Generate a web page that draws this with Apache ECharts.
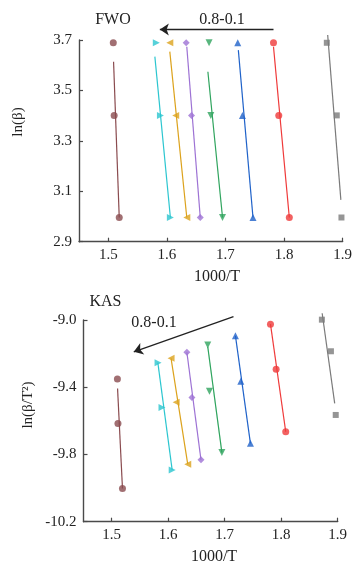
<!DOCTYPE html>
<html>
<head>
<meta charset="utf-8">
<script src="https://cdn.jsdelivr.net/npm/echarts@6/dist/echarts.min.js"></script>
<style>
  html, body { margin: 0; padding: 0; background: #fff; }
  #chart { width: 355px; height: 570px; }
</style>
</head>
<body>
<div id="chart"></div>
<script>
// Isoconversional plots (FWO and KAS), conversion 0.8 (left) ... 0.1 (right),
// three heating rates per conversion (20, 30, 40 K/min).

// ---- FWO: ln(beta) vs 1000/T ----
const lnBeta = [3.689, 3.401, 2.996];          // beta = 40, 30, 20
const fwoX08 = [1.5085, 1.510, 1.5187];
const fwoX07 = [1.582, 1.589, 1.606];
const fwoX06 = [1.605, 1.615, 1.634];
const fwoX05 = [1.633, 1.642, 1.657];
const fwoX04 = [1.672, 1.675, 1.695];
const fwoX03 = [1.721, 1.729, 1.747];
const fwoX02 = [1.782, 1.791, 1.809];
const fwoX01 = [1.873, 1.890, 1.898];

// fitted lines [x, y] start / end
const fwoFit08 = [[1.509, 3.614], [1.5187, 2.996]];
const fwoFit07 = [[1.5795, 3.634], [1.606, 2.996]];
const fwoFit06 = [[1.605, 3.654], [1.634, 2.996]];
const fwoFit05 = [[1.634, 3.673], [1.657, 2.996]];
const fwoFit04 = [[1.670, 3.574], [1.695, 2.996]];
const fwoFit03 = [[1.722, 3.660], [1.747, 2.996]];
const fwoFit02 = [[1.782, 3.673], [1.809, 2.996]];
const fwoFit01 = [[1.8745, 3.720], [1.897, 3.066]];

// ---- KAS: ln(beta/T^2) vs 1000/T ----
const kasX08 = [1.510, 1.511, 1.519];   const kasY08 = [-9.351, -9.616, -10.002];
const kasX07 = [1.582, 1.589, 1.607];   const kasY07 = [-9.254, -9.521, -9.893];
const kasX06 = [1.605, 1.614, 1.6345];  const kasY06 = [-9.228, -9.489, -9.858];
const kasX05 = [1.633, 1.642, 1.658];   const kasY05 = [-9.192, -9.461, -9.832];
const kasX04 = [1.670, 1.673, 1.695];   const kasY04 = [-9.149, -9.424, -9.789];
const kasX03 = [1.719, 1.7285, 1.7455]; const kasY03 = [-9.094, -9.365, -9.734];
const kasX02 = [1.781, 1.791, 1.808];   const kasY02 = [-9.025, -9.293, -9.665];
const kasX01 = [1.872, 1.888, 1.8965];  const kasY01 = [-8.998, -9.186, -9.565];

const kasFit08 = [[1.5103, -9.407], [1.519, -10.002]];
const kasFit07 = [[1.5816, -9.254], [1.607, -9.893]];
const kasFit06 = [[1.605, -9.228], [1.6345, -9.858]];
const kasFit05 = [[1.633, -9.192], [1.658, -9.832]];
const kasFit04 = [[1.670, -9.160], [1.695, -9.789]];
const kasFit03 = [[1.719, -9.094], [1.7455, -9.734]];
const kasFit02 = [[1.781, -9.025], [1.808, -9.665]];
const kasFit01 = [[1.8725, -8.960], [1.8947, -9.496]];

// axis ticks
const xTicks = [1.5, 1.6, 1.7, 1.8, 1.9];
const fwoYTicks = [2.9, 3.1, 3.3, 3.5, 3.7];
const kasYTicks = [-10.2, -9.8, -9.4, -9.0];

// arrows "0.8-0.1" in data space
const fwoArrow = [[1.782, 3.742], [1.588, 3.742]];
const kasArrow = [[1.7155, -8.980], [1.539, -9.189]];

const styles = [
  { color: '#8a4b4f', symbol: 'circle',   rot: 0 },
  { color: '#2cc6d0', symbol: 'triangle', rot: -90 },
  { color: '#dca21c', symbol: 'triangle', rot: 90 },
  { color: '#9d72d4', symbol: 'diamond',  rot: 0 },
  { color: '#2fa45e', symbol: 'triangle', rot: 180 },
  { color: '#1f62c9', symbol: 'triangle', rot: 0 },
  { color: '#ef3a3a', symbol: 'circle',   rot: 0 },
  { color: '#7a7a7a', symbol: 'rect',     rot: 0 }
];

const fwoXs = [fwoX08, fwoX07, fwoX06, fwoX05, fwoX04, fwoX03, fwoX02, fwoX01];
const fwoFits = [fwoFit08, fwoFit07, fwoFit06, fwoFit05, fwoFit04, fwoFit03, fwoFit02, fwoFit01];
const kasXs = [kasX08, kasX07, kasX06, kasX05, kasX04, kasX03, kasX02, kasX01];
const kasYs = [kasY08, kasY07, kasY06, kasY05, kasY04, kasY03, kasY02, kasY01];
const kasFits = [kasFit08, kasFit07, kasFit06, kasFit05, kasFit04, kasFit03, kasFit02, kasFit01];

const FONT = 'Liberation Serif, Times New Roman, serif';
const TXT = '#222';
const AXIS = '#4a4a4a';

function xAxisCfg(gridIndex) {
  return {
    type: 'value', gridIndex, min: 1.45, max: 1.9,
    axisLine: { lineStyle: { color: AXIS, width: 1.4 } },
    axisTick: { inside: true, length: 4, customValues: xTicks, lineStyle: { color: AXIS, width: 1.2 } },
    axisLabel: { customValues: xTicks, formatter: v => v.toFixed(1), color: TXT,
                 fontFamily: FONT, fontSize: 15, margin: 6 },
    splitLine: { show: false }
  };
}
function yAxisCfg(gridIndex, min, max, ticks) {
  return {
    type: 'value', gridIndex, min, max,
    axisLine: { show: true, lineStyle: { color: AXIS, width: 1.4 } },
    axisTick: { show: true, inside: true, length: 4, customValues: ticks, lineStyle: { color: AXIS, width: 1.2 } },
    axisLabel: { customValues: ticks, formatter: v => v.toFixed(1), color: TXT,
                 fontFamily: FONT, fontSize: 15, margin: 7 },
    splitLine: { show: false }
  };
}

// "0.8-0.1" direction arrow, a lines series in data coordinates
function arrowSeries(idx, pts) {
  return {
    type: 'lines', coordinateSystem: 'cartesian2d', xAxisIndex: idx, yAxisIndex: idx,
    clip: false, silent: true, z: 4,
    symbol: ['none', 'arrow'], symbolSize: 9,
    lineStyle: { color: '#222', width: 1.3, opacity: 1, curveness: 0 },
    data: [{ coords: pts }]
  };
}

const series = [];
styles.forEach((s, i) => {
  series.push({
    type: 'line', xAxisIndex: 0, yAxisIndex: 0, data: fwoFits[i],
    showSymbol: false, clip: false, silent: true,
    lineStyle: { color: s.color, width: 1.2 }, z: 2
  });
  series.push({
    type: 'scatter', xAxisIndex: 0, yAxisIndex: 0, clip: false,
    data: fwoXs[i].map((x, k) => [x, lnBeta[k]]),
    symbol: s.symbol, symbolRotate: s.rot, symbolSize: s.symbol === 'rect' ? 6 : 7,
    itemStyle: { color: s.color }, z: 3
  });
  series.push({
    type: 'line', xAxisIndex: 1, yAxisIndex: 1, data: kasFits[i],
    showSymbol: false, clip: false, silent: true,
    lineStyle: { color: s.color, width: 1.2 }, z: 2
  });
  series.push({
    type: 'scatter', xAxisIndex: 1, yAxisIndex: 1, clip: false,
    data: kasXs[i].map((x, k) => [x, kasYs[i][k]]),
    symbol: s.symbol, symbolRotate: s.rot, symbolSize: s.symbol === 'rect' ? 6 : 7,
    itemStyle: { color: s.color }, z: 3
  });
});
series.push(arrowSeries(0, fwoArrow));
series.push(arrowSeries(1, kasArrow));

function text(str, x, y, size, rot) {
  return {
    type: 'text', x, y, rotation: rot || 0,
    style: { text: str, fill: TXT, font: `${size}px ${FONT}`,
             align: 'center', verticalAlign: 'middle',
             textAlign: 'center', textVerticalAlign: 'middle' }
  };
}

const chart = echarts.init(document.getElementById('chart'), null, { renderer: 'canvas' });
chart.setOption({
  animation: false,
  backgroundColor: '#fff',
  grid: [
    { left: 79, top: 40, width: 264.3, height: 201.7 },
    { left: 83.5, top: 320, width: 254.2, height: 201.7 }
  ],
  xAxis: [xAxisCfg(0), xAxisCfg(1)],
  yAxis: [yAxisCfg(0, 2.9, 3.7, fwoYTicks), yAxisCfg(1, -10.2, -9.0, kasYTicks)],
  series,
  graphic: [
    text('FWO', 113, 20, 16),
    text('0.8-0.1', 222, 20, 16),
    text('KAS', 105.5, 302, 16),
    text('0.8-0.1', 154, 323, 16),
    text('ln(β)', 18, 122, 15, Math.PI / 2),
    text('ln(β/T²)', 28, 405, 15, Math.PI / 2),
    text('1000/T', 217, 277, 16),
    text('1000/T', 214, 557, 16)
  ]
});
</script>
</body>
</html>
